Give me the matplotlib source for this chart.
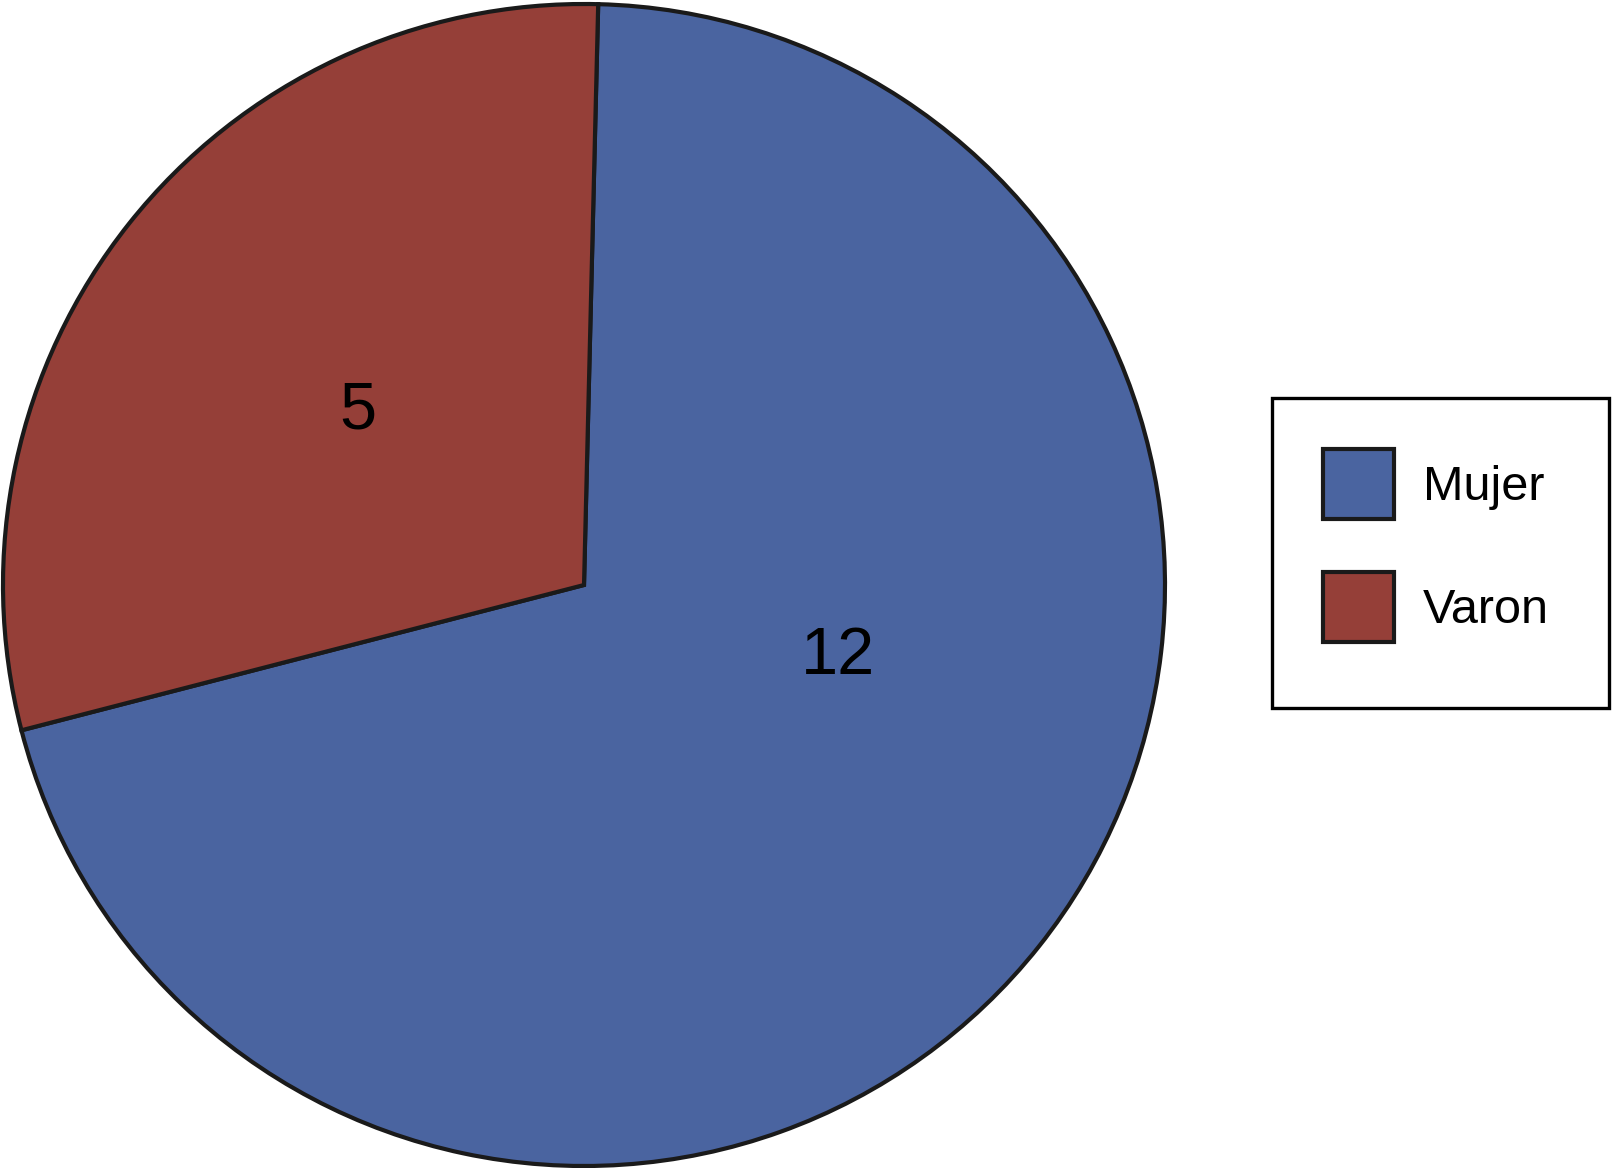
import matplotlib.pyplot as plt
from matplotlib.patches import Rectangle
import numpy as np

plt.rcParams['font.family'] = ['Liberation Sans', 'DejaVu Sans']

labels = ['Mujer', 'Varon']
counts = [12, 5]
colors = ['#4A64A0', '#953F38']

W, H = 1612, 1168
fig = plt.figure(figsize=(W / 100, H / 100), dpi=100)
ax = fig.add_axes([3 / W, 2 / H, 1162 / W, 1162 / H])

wedges, texts = ax.pie(counts, colors=colors, startangle=88.6, counterclock=False,
                       wedgeprops=dict(edgecolor='#1a1a1a', linewidth=3))
ax.set_xlim(-1, 1)
ax.set_ylim(-1, 1)
ax.set_aspect('equal')

# value labels, placed roughly where the original has them
label_pos = [(-15.8, 0.455), (142.5, 0.49)]
for n, (ang, r) in zip(counts, label_pos):
    a = np.deg2rad(ang)
    ax.text(r * np.cos(a), r * np.sin(a), str(n), ha='center', va='center',
            fontsize=48, color='black')

leg = fig.legend(wedges, labels, loc='upper left',
                 bbox_to_anchor=(1272 / W, 1 - 398 / H), borderaxespad=0,
                 fontsize=35, frameon=False,
                 handlelength=1.46, handleheight=1.84, handletextpad=0.6,
                 labelspacing=1.09, borderpad=1.05)
for h in leg.legend_handles:
    h.set_edgecolor('#1a1a1a')
    h.set_linewidth(3)

# legend box is a bit taller/wider than matplotlib's own frame
fig.patches.append(Rectangle((1272 / W, 1 - 708 / H), 337 / W, 310 / H,
                             transform=fig.transFigure, fill=False,
                             edgecolor='black', linewidth=2.4))

fig.savefig('out.png', dpi=100)
